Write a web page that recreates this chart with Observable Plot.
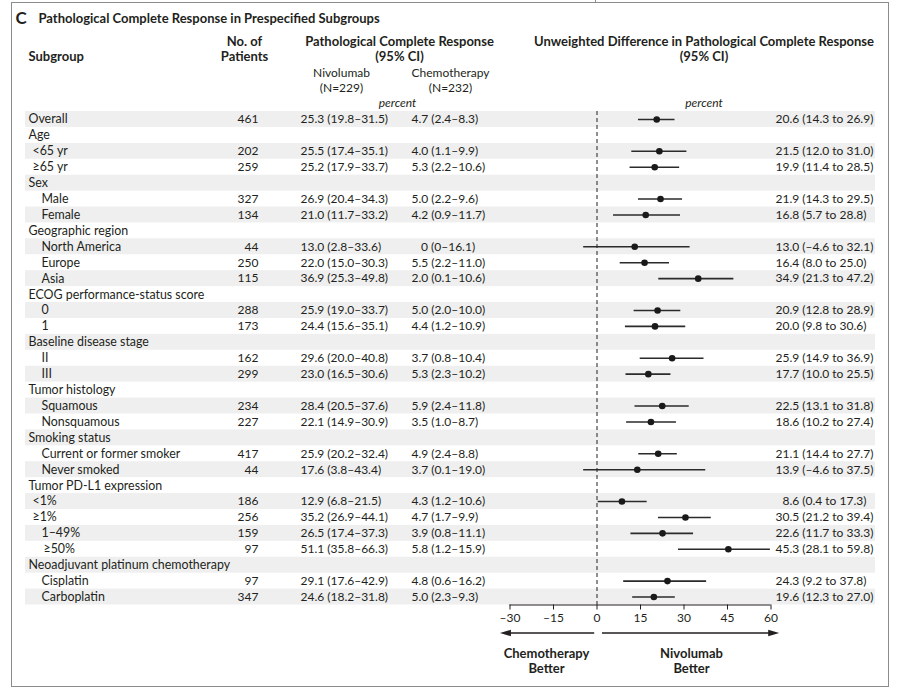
<!DOCTYPE html>
<html><head><meta charset="utf-8">
<script src="https://cdn.jsdelivr.net/npm/d3@7"></script>
<script src="https://cdn.jsdelivr.net/npm/@observablehq/plot@0.6"></script>
<style>
body{margin:0;background:#fff;}
#wrap{position:relative;width:900px;height:688px;overflow:hidden;background:#fff;}
#frame{position:absolute;left:11px;top:2px;width:878px;height:685px;border:1.5px solid #8c8c8c;box-sizing:border-box;}
#tick{position:absolute;left:595px;top:0;width:1px;height:3px;background:#8c8c8c;}
#chart{position:absolute;left:0;top:0;}
</style></head><body>
<div id="wrap"><div id="frame"></div><div id="tick"></div><div id="chart"></div></div>
<script>
// ---------- data ----------
const subgroups = ["Overall","Age","<65 yr","≥65 yr","Sex","Male","Female","Geographic region","North America","Europe","Asia","ECOG performance-status score","0","1","Baseline disease stage","II","III","Tumor histology","Squamous","Nonsquamous","Smoking status","Current or former smoker","Never smoked","Tumor PD-L1 expression","<1%","≥1%","1–49%","≥50%","Neoadjuvant platinum chemotherapy","Cisplatin","Carboplatin"];
const levels = [0,0,1,1,0,2,2,0,2,2,2,0,2,2,0,2,2,0,2,2,0,2,2,0,1,1,2,3,0,2,2];
const patients = [461,null,202,259,null,327,134,null,44,250,115,null,288,173,null,162,299,null,234,227,null,417,44,null,186,256,159,97,null,97,347];
const nivoEst = [25.3,null,25.5,25.2,null,26.9,21.0,null,13.0,22.0,36.9,null,25.9,24.4,null,29.6,23.0,null,28.4,22.1,null,25.9,17.6,null,12.9,35.2,26.5,51.1,null,29.1,24.6];
const nivoLo  = [19.8,null,17.4,17.9,null,20.4,11.7,null,2.8,15.0,25.3,null,19.0,15.6,null,20.0,16.5,null,20.5,14.9,null,20.2,3.8,null,6.8,26.9,17.4,35.8,null,17.6,18.2];
const nivoHi  = [31.5,null,35.1,33.7,null,34.3,33.2,null,33.6,30.3,49.8,null,33.7,35.1,null,40.8,30.6,null,37.6,30.9,null,32.4,43.4,null,21.5,44.1,37.3,66.3,null,42.9,31.8];
const chemoEst = [4.7,null,4.0,5.3,null,5.0,4.2,null,0,5.5,2.0,null,5.0,4.4,null,3.7,5.3,null,5.9,3.5,null,4.9,3.7,null,4.3,4.7,3.9,5.8,null,4.8,5.0];
const chemoLo  = [2.4,null,1.1,2.2,null,2.2,0.9,null,0,2.2,0.1,null,2.0,1.2,null,0.8,2.3,null,2.4,1.0,null,2.4,0.1,null,1.2,1.7,0.8,1.2,null,0.6,2.3];
const chemoHi  = [8.3,null,9.9,10.6,null,9.6,11.7,null,16.1,11.0,10.6,null,10.0,10.9,null,10.4,10.2,null,11.8,8.7,null,8.8,19.0,null,10.6,9.9,11.1,15.9,null,16.2,9.3];
const diffEst = [20.6,null,21.5,19.9,null,21.9,16.8,null,13.0,16.4,34.9,null,20.9,20.0,null,25.9,17.7,null,22.5,18.6,null,21.1,13.9,null,8.6,30.5,22.6,45.3,null,24.3,19.6];
const diffLo  = [14.3,null,12.0,11.4,null,14.3,5.7,null,-4.6,8.0,21.3,null,12.8,9.8,null,14.9,10.0,null,13.1,10.2,null,14.4,-4.6,null,0.4,21.2,11.7,28.1,null,9.2,12.3];
const diffHi  = [26.9,null,31.0,28.5,null,29.5,28.8,null,32.1,25.0,47.2,null,28.9,30.6,null,36.9,25.5,null,31.8,27.4,null,27.7,37.5,null,17.3,39.4,33.3,59.8,null,37.8,27.0];
const xDomain = [-30, 60];
const xTicks = [-30, -15, 0, 15, 30, 45, 60];

// ---------- helpers ----------
const fmt = v => v === 0 ? "0" : v.toFixed(1);
const sfmt = v => (v < 0 ? "–" : "") + fmt(Math.abs(v));
const rows = subgroups.map((label, i) => ({
  id: String(i), label, level: levels[i], n: patients[i],
  nivo: nivoEst[i] == null ? null : `${fmt(nivoEst[i])} (${fmt(nivoLo[i])}–${fmt(nivoHi[i])})`,
  chemo: chemoEst[i] == null ? null : `${chemoEst[i] === 0 ? "\u2007\u2008" : ""}${fmt(chemoEst[i])} (${fmt(chemoLo[i])}–${fmt(chemoHi[i])})`,
  est: diffEst[i], lo: diffLo[i], hi: diffHi[i],
  diff: diffEst[i] == null ? null : `${diffEst[i] < 10 ? "\u2007" : ""}${fmt(diffEst[i])} (${sfmt(diffLo[i])} to ${sfmt(diffHi[i])})`
}));
const dataRows = rows.filter(d => d.est != null);
const shaded = rows.filter((d, i) => i % 2 === 0);

const W = 900, H = 688;
const M = {left: 509.5, right: 129.5, top: 111, bottom: 83.5};
const bw = (H - M.top - M.bottom) / rows.length;
const ink = "#231f20";
const indentPx = [28, 32, 41, 43];
const font = "Lato, 'Open Sans', sans-serif";

// header text positioned relative to the frame's top-left corner
const hdr = (text, cx, cy, o = {}) => Plot.text([text], {
  text: d => d, frameAnchor: "top-left", lineAnchor: "middle", dx: cx - M.left, dy: cy - M.top,
  textAnchor: "middle", fill: ink, fontSize: 13, fontWeight: "bold", ...o
});
const plain = {fontWeight: "normal", fontSize: 12};

// arrows under the axis
function arrows(index, {x}, values, dims) {
  const y = dims.height - dims.marginBottom + 28.5;
  const g = d3.create("svg:g").attr("fill", ink).attr("stroke", ink);
  const spans = [[-0.8, xDomain[0] - 3.3], [1.9, xDomain[1] + 3]];
  for (const [a, b] of spans) {
    const xa = x(a), xb = x(b), dir = Math.sign(xb - xa);
    g.append("line").attr("x1", xa).attr("x2", xb - dir * 8).attr("y1", y).attr("y2", y).attr("stroke-width", 1.3);
    g.append("path").attr("stroke", "none")
      .attr("d", `M${xb},${y}L${xb - dir * 11},${y - 3.2}L${xb - dir * 11},${y + 3.2}Z`);
  }
  return g.node();
}

const levelMarks = indentPx.map((px, lv) => Plot.text(rows.filter(d => d.level === lv), {
  y: "id", text: "label", frameAnchor: "left", lineAnchor: "middle", dx: px - M.left, textAnchor: "start", fill: ink, fontSize: 12.4
}));

const chart = Plot.plot({
  width: W, height: H,
  marginLeft: M.left, marginRight: M.right, marginTop: M.top, marginBottom: M.bottom,
  style: {fontFamily: font, fontSize: "12px", color: ink, background: "transparent", overflow: "visible"},
  x: {domain: xDomain},
  y: {type: "band", domain: rows.map(d => d.id), padding: 0, round: false, axis: null},
  marks: [
    Plot.barX(shaded, {y: "id", x1: xDomain[0], x2: xDomain[1], fill: "#efefef",
      insetLeft: -(M.left - 25), insetRight: -(875 - (W - M.right))}),
    Plot.ruleX([0], {stroke: ink, strokeDasharray: "4,3", strokeWidth: 1}),
    Plot.ruleY(dataRows, {y: "id", x1: "lo", x2: "hi", stroke: "#2b2b2b", strokeWidth: 1.6}),
    Plot.dot(dataRows, {y: "id", x: "est", r: 3.3, fill: "#1a1a1a", stroke: "none"}),
    ...levelMarks,
    Plot.text(rows.filter(d => d.n != null), {y: "id", text: d => String(d.n), frameAnchor: "left", dx: 258 - M.left, textAnchor: "end", fill: ink}),
    Plot.text(dataRows, {y: "id", text: "nivo", frameAnchor: "left", dx: 300 - M.left, textAnchor: "start", fill: ink}),
    Plot.text(dataRows, {y: "id", text: "chemo", frameAnchor: "left", dx: 411 - M.left, textAnchor: "start", fill: ink}),
    Plot.text(dataRows, {y: "id", text: "diff", frameAnchor: "left", dx: 775 - M.left, textAnchor: "start", fill: ink}),
    // axis
    Plot.ruleY([rows[rows.length - 1].id], {x1: xDomain[0], x2: xDomain[1], dy: bw / 2, stroke: ink, strokeWidth: 1.1}),
    Plot.axisX(xTicks, {tickSize: 5, tickPadding: 3, label: null, stroke: ink, fill: ink, fontSize: 12,
      tickFormat: d => (d < 0 ? "–" : "") + Math.abs(d)}),
    arrows,
    // headers
    hdr("C", 15, 18, {textAnchor: "start", fontSize: 17}),
    hdr("Pathological Complete Response in Prespecified Subgroups", 38, 18, {textAnchor: "start"}),
    hdr("Subgroup", 28, 56.5, {textAnchor: "start"}),
    hdr("No. of", 244, 41),
    hdr("Patients", 244, 56.5),
    hdr("Pathological Complete Response", 399, 41),
    hdr("(95% CI)", 399, 56.5),
    hdr("Nivolumab", 341, 73, plain),
    hdr("(N=229)", 341, 88, plain),
    hdr("Chemotherapy", 450, 73, plain),
    hdr("(N=232)", 450, 88, plain),
    hdr("percent", 397, 102.5, {...plain, fontStyle: "italic"}),
    hdr("Unweighted Difference in Pathological Complete Response", 703.5, 41),
    hdr("(95% CI)", 703.5, 56.5),
    hdr("percent", 703.5, 102.5, {...plain, fontStyle: "italic"}),
    // bottom labels
    hdr("Chemotherapy", 546, 653),
    hdr("Better", 546, 668),
    hdr("Nivolumab", 691, 653),
    hdr("Better", 691, 668)
  ]
});
document.getElementById("chart").appendChild(chart);
</script>
</body></html>
